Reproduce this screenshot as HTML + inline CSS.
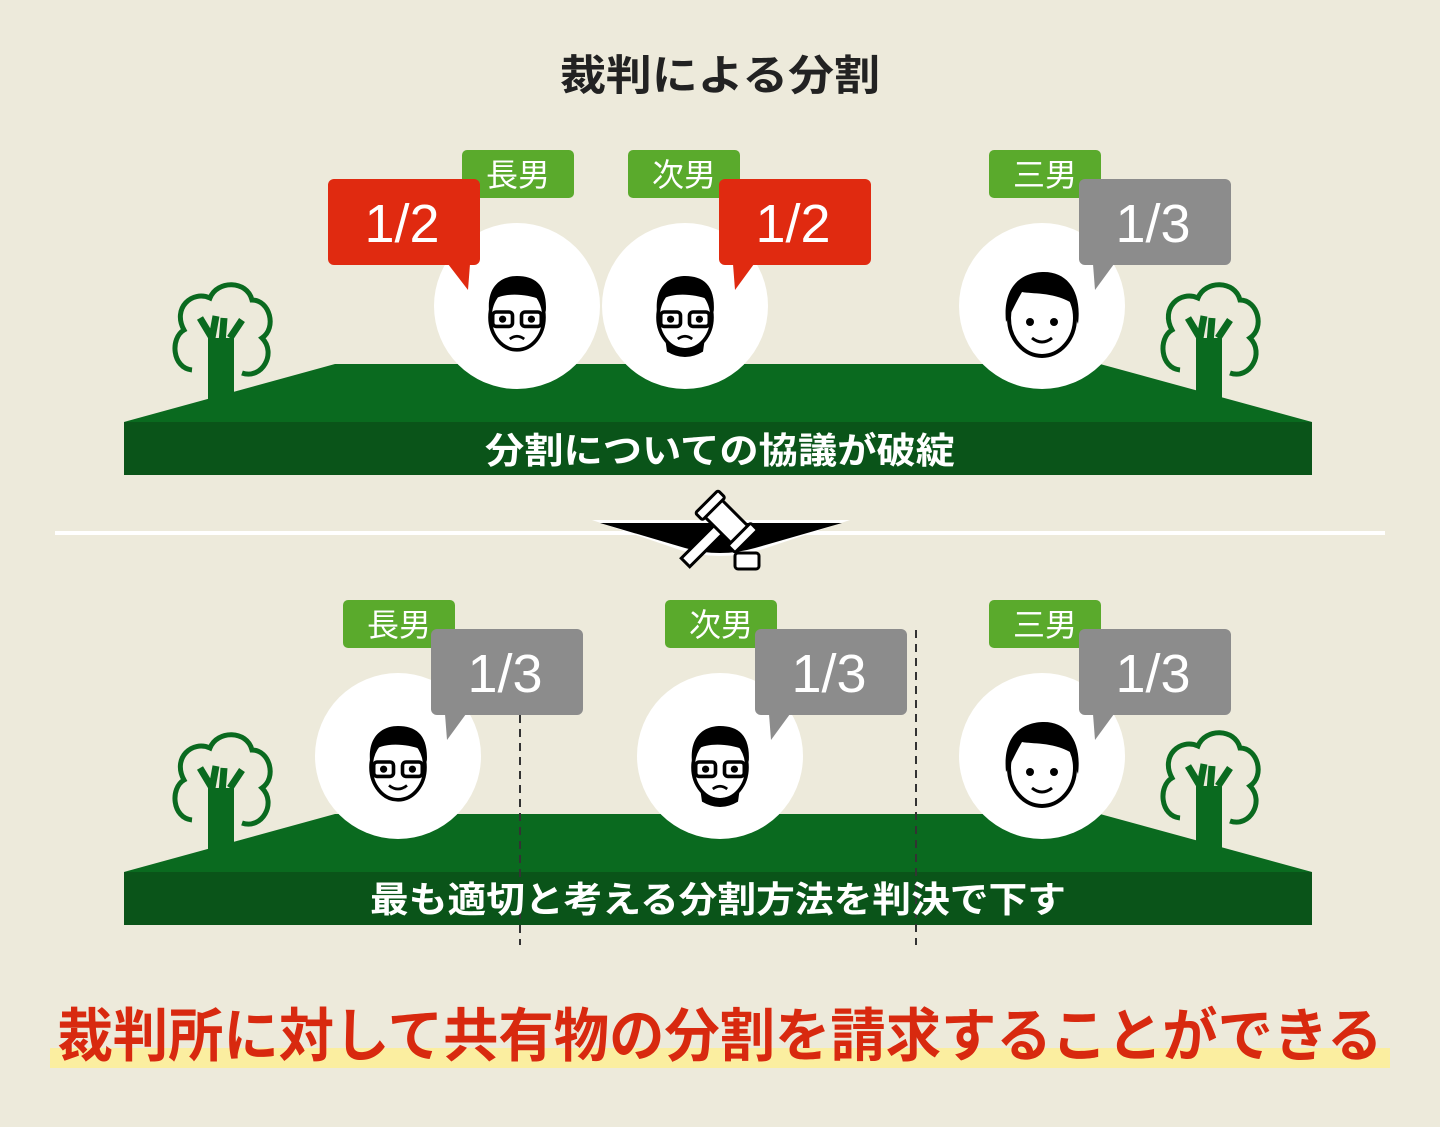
<!DOCTYPE html>
<html><head><meta charset="utf-8"><style>
body{margin:0;background:#edeadb;}
svg{display:block}
text{font-family:"Liberation Sans","Noto Sans CJK JP",sans-serif;}
</style></head><body>
<svg width="1440" height="1127" viewBox="0 0 1440 1127" xmlns="http://www.w3.org/2000/svg">
<defs>
<g id="tree">
 <path d="M-10,80 L-10,40 L-22,20 M-10,40 L-6,18 M0,45 L2,20 M8,40 L20,22" stroke="#0a6a1f" stroke-width="7" fill="none"/>
 <rect x="-14" y="40" width="26" height="70" fill="#0a6a1f"/>
 <path d="M-30,72 C-50,70 -52,40 -38,32 C-50,10 -30,-8 -12,0 C-5,-18 25,-18 30,2 C48,2 55,30 40,40 C55,55 40,82 20,75" fill="none" stroke="#0a6a1f" stroke-width="5"/>
</g>
<g id="face">
 <ellipse cx="0" cy="6" rx="30" ry="36" fill="#fff" stroke="#000" stroke-width="4"/>
 <path d="M-31,0 C-34,-30 -16,-40 0,-40 C20,-40 34,-30 32,0 L26,-14 C10,-20 -12,-22 -26,-14 Z" fill="#000"/>
 <rect x="-27" y="0" width="22" height="16" rx="4" fill="none" stroke="#000" stroke-width="4"/>
 <rect x="5" y="0" width="22" height="16" rx="4" fill="none" stroke="#000" stroke-width="4"/>
 <circle cx="-16" cy="8" r="4" fill="#000"/><circle cx="16" cy="8" r="4" fill="#000"/>
 <path d="M-8,30 Q0,24 8,30" stroke="#000" stroke-width="3" fill="none"/>
</g>
<g id="face3">
 <ellipse cx="0" cy="6" rx="33" ry="38" fill="#fff" stroke="#000" stroke-width="4"/>
 <path d="M-36,10 C-40,-30 -16,-40 2,-40 C26,-40 40,-20 36,12 L28,-10 C10,-20 -10,-18 -20,-20 C-26,-10 -30,0 -36,10 Z" fill="#000"/>
 <circle cx="-12" cy="10" r="4" fill="#000"/><circle cx="12" cy="10" r="4" fill="#000"/>
 <path d="M-10,26 Q0,34 10,26" stroke="#000" stroke-width="3" fill="none"/>
</g>
</defs>

<text x="720" y="90" font-size="42" font-weight="bold" text-anchor="middle" fill="#222" textLength="320" lengthAdjust="spacingAndGlyphs">裁判による分割</text>

<!-- top hill -->
<path d="M124,422 L335,364 L1100,364 L1312,422 Z" fill="#0a6a1f"/>
<rect x="124" y="422" width="1188" height="53" fill="#0a5419"/>
<use href="#tree" x="222" y="298"/>
<use href="#tree" x="1210" y="298"/>
<circle cx="517" cy="306" r="83" fill="#fff"/>
<circle cx="685" cy="306" r="83" fill="#fff"/>
<circle cx="1042" cy="306" r="83" fill="#fff"/>
<g transform="translate(517,312) scale(0.9)"><use href="#face"/></g>
<g transform="translate(685,312) scale(0.9)"><use href="#face"/><path d="M-22,30 Q0,50 22,30 L20,44 Q0,56 -20,44 Z" fill="#000"/></g>
<g transform="translate(1042,312) scale(1)"><use href="#face3"/></g>
<rect x="462" y="150" width="112" height="48" rx="5" fill="#5aaa2c"/><text x="518" y="186" font-size="32" fill="#fff" text-anchor="middle">長男</text>
<rect x="628" y="150" width="112" height="48" rx="5" fill="#5aaa2c"/><text x="684" y="186" font-size="32" fill="#fff" text-anchor="middle">次男</text>
<rect x="989" y="150" width="112" height="48" rx="5" fill="#5aaa2c"/><text x="1045" y="186" font-size="32" fill="#fff" text-anchor="middle">三男</text>
<rect x="328" y="179" width="152" height="86" rx="6" fill="#e02a10"/><path d="M448,264 L468,290 L470,264Z" fill="#e02a10"/>
<text x="402" y="242" font-size="54" fill="#fff" text-anchor="middle">1/2</text>
<rect x="719" y="179" width="152" height="86" rx="6" fill="#e02a10"/><path d="M733,264 L735,290 L754,264Z" fill="#e02a10"/>
<text x="793" y="242" font-size="54" fill="#fff" text-anchor="middle">1/2</text>
<rect x="1079" y="179" width="152" height="86" rx="6" fill="#8c8c8c"/><path d="M1093,264 L1095,290 L1114,264Z" fill="#8c8c8c"/>
<text x="1153" y="242" font-size="54" fill="#fff" text-anchor="middle">1/3</text>
<text x="720" y="463" font-size="36" font-weight="bold" fill="#fff" text-anchor="middle" textLength="470" lengthAdjust="spacingAndGlyphs">分割についての協議が破綻</text>

<!-- divider -->
<rect x="55" y="531" width="1330" height="4" fill="#fff"/>
<path d="M592,520 L850,520 L760,550 Q720,562 680,550 Z" fill="#fff"/>
<path d="M600,523 L842,523 L755,548 Q720,558 685,548 Z" fill="#000"/>
<g transform="translate(718,530) rotate(45)">
 <rect x="-6" y="-2" width="12" height="48" fill="#fff" stroke="#000" stroke-width="3"/>
 <rect x="-22" y="-24" width="44" height="24" fill="#fff" stroke="#000" stroke-width="3"/>
 <rect x="-28" y="-28" width="10" height="32" rx="2" fill="#fff" stroke="#000" stroke-width="3"/>
 <rect x="18" y="-28" width="10" height="32" rx="2" fill="#fff" stroke="#000" stroke-width="3"/>
</g>
<rect x="735" y="553" width="24" height="16" rx="3" fill="#fff" stroke="#000" stroke-width="3"/>

<!-- bottom hill -->
<path d="M124,872 L335,814 L1100,814 L1312,872 Z" fill="#0a6a1f"/>
<rect x="124" y="872" width="1188" height="53" fill="#0a5419"/>
<use href="#tree" x="222" y="748"/>
<use href="#tree" x="1210" y="746"/>
<circle cx="398" cy="756" r="83" fill="#fff"/>
<circle cx="720" cy="756" r="83" fill="#fff"/>
<circle cx="1042" cy="756" r="83" fill="#fff"/>
<g transform="translate(398,762) scale(0.9)"><use href="#face"/><path d="M-8,30 Q0,24 8,30" stroke="#fff" stroke-width="4" fill="none"/><path d="M-10,26 Q0,34 10,26" stroke="#000" stroke-width="3" fill="none"/></g>
<g transform="translate(720,762) scale(0.9)"><use href="#face"/><path d="M-22,30 Q0,50 22,30 L20,44 Q0,56 -20,44 Z" fill="#000"/></g>
<g transform="translate(1042,762)"><use href="#face3"/></g>
<line x1="520" y1="715" x2="520" y2="945" stroke="#333" stroke-width="2" stroke-dasharray="8,6"/>
<line x1="916" y1="630" x2="916" y2="945" stroke="#333" stroke-width="2" stroke-dasharray="8,6"/>
<rect x="343" y="600" width="112" height="48" rx="5" fill="#5aaa2c"/><text x="399" y="636" font-size="32" fill="#fff" text-anchor="middle">長男</text>
<rect x="665" y="600" width="112" height="48" rx="5" fill="#5aaa2c"/><text x="721" y="636" font-size="32" fill="#fff" text-anchor="middle">次男</text>
<rect x="989" y="600" width="112" height="48" rx="5" fill="#5aaa2c"/><text x="1045" y="636" font-size="32" fill="#fff" text-anchor="middle">三男</text>
<rect x="431" y="629" width="152" height="86" rx="6" fill="#8c8c8c"/><path d="M445,714 L447,740 L466,714Z" fill="#8c8c8c"/>
<text x="505" y="692" font-size="54" fill="#fff" text-anchor="middle">1/3</text>
<rect x="755" y="629" width="152" height="86" rx="6" fill="#8c8c8c"/><path d="M769,714 L771,740 L790,714Z" fill="#8c8c8c"/>
<text x="829" y="692" font-size="54" fill="#fff" text-anchor="middle">1/3</text>
<rect x="1079" y="629" width="152" height="86" rx="6" fill="#8c8c8c"/><path d="M1093,714 L1095,740 L1114,714Z" fill="#8c8c8c"/>
<text x="1153" y="692" font-size="54" fill="#fff" text-anchor="middle">1/3</text>
<text x="718" y="912" font-size="36" font-weight="bold" fill="#fff" text-anchor="middle" textLength="696" lengthAdjust="spacingAndGlyphs">最も適切と考える分割方法を判決で下す</text>

<rect x="50" y="1048" width="1340" height="20" fill="#fbeea0"/>
<text x="720" y="1056" font-size="58" font-weight="bold" fill="#d8290f" text-anchor="middle" textLength="1325" lengthAdjust="spacingAndGlyphs">裁判所に対して共有物の分割を請求することができる</text>
</svg>
</body></html>
